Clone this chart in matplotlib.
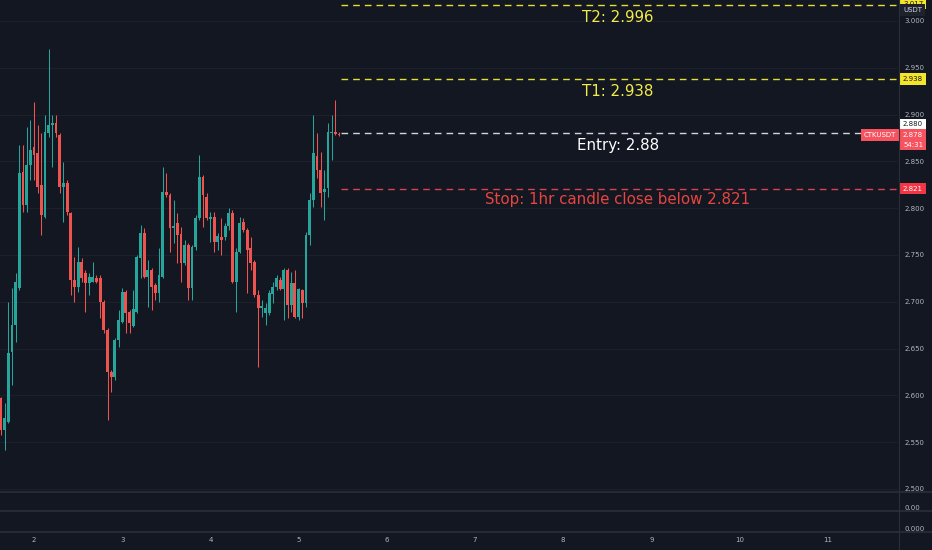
import numpy as np
import matplotlib
matplotlib.use("Agg")
import matplotlib.pyplot as plt

# CTKUSDT 1h candles
opens = [2.597, 2.563, 2.571, 2.646, 2.675, 2.715, 2.839, 2.803, 2.846, 2.865,
         2.859, 2.825, 2.791, 2.880, 2.889, 2.891, 2.878, 2.823, 2.827, 2.795,
         2.723, 2.716, 2.742, 2.731, 2.720, 2.721, 2.725, 2.725, 2.700, 2.670,
         2.625, 2.620, 2.659, 2.678, 2.710, 2.689, 2.674, 2.689, 2.747, 2.773,
         2.726, 2.734, 2.718, 2.709, 2.726, 2.817, 2.814, 2.779, 2.784, 2.772,
         2.741, 2.761, 2.715, 2.758, 2.790, 2.833, 2.812, 2.788, 2.791, 2.764,
         2.769, 2.769, 2.781, 2.795, 2.721, 2.753, 2.785, 2.777, 2.757, 2.742,
         2.707, 2.693, 2.688, 2.688, 2.708, 2.716, 2.723, 2.714, 2.734, 2.697,
         2.720, 2.684, 2.713, 2.699, 2.771, 2.809, 2.856, 2.841, 2.817, 2.822,
         2.880, 2.881, 2.879]
closes = [2.563, 2.576, 2.645, 2.675, 2.721, 2.838, 2.803, 2.846, 2.862, 2.857,
          2.823, 2.793, 2.881, 2.889, 2.891, 2.880, 2.823, 2.827, 2.796, 2.723,
          2.716, 2.742, 2.725, 2.720, 2.726, 2.726, 2.721, 2.700, 2.670, 2.625,
          2.620, 2.659, 2.681, 2.710, 2.688, 2.677, 2.692, 2.748, 2.773, 2.726,
          2.734, 2.716, 2.709, 2.729, 2.817, 2.814, 2.779, 2.781, 2.771, 2.741,
          2.761, 2.715, 2.758, 2.790, 2.833, 2.814, 2.790, 2.791, 2.764, 2.770,
          2.766, 2.781, 2.795, 2.721, 2.753, 2.784, 2.777, 2.755, 2.741, 2.707,
          2.693, 2.695, 2.693, 2.709, 2.716, 2.725, 2.714, 2.734, 2.697, 2.720,
          2.684, 2.714, 2.699, 2.771, 2.809, 2.859, 2.841, 2.816, 2.820, 2.881,
          2.881, 2.879, 2.878]
highs = [2.598, 2.592, 2.700, 2.715, 2.731, 2.867, 2.867, 2.887, 2.894, 2.913,
         2.889, 2.880, 2.900, 2.970, 2.900, 2.900, 2.880, 2.849, 2.830, 2.796,
         2.748, 2.758, 2.747, 2.734, 2.731, 2.742, 2.729, 2.729, 2.702, 2.672,
         2.627, 2.661, 2.691, 2.715, 2.713, 2.691, 2.713, 2.750, 2.782, 2.779,
         2.745, 2.736, 2.720, 2.757, 2.844, 2.838, 2.816, 2.809, 2.795, 2.780,
         2.766, 2.763, 2.761, 2.793, 2.857, 2.835, 2.816, 2.796, 2.796, 2.773,
         2.790, 2.784, 2.800, 2.798, 2.757, 2.791, 2.790, 2.779, 2.769, 2.745,
         2.713, 2.702, 2.699, 2.713, 2.721, 2.729, 2.726, 2.736, 2.736, 2.732,
         2.734, 2.715, 2.714, 2.775, 2.816, 2.900, 2.880, 2.860, 2.841, 2.891,
         2.900, 2.916, 2.881]
lows = [2.558, 2.542, 2.570, 2.611, 2.657, 2.713, 2.796, 2.796, 2.830, 2.830,
        2.816, 2.771, 2.790, 2.876, 2.844, 2.876, 2.816, 2.785, 2.793, 2.707,
        2.700, 2.710, 2.721, 2.689, 2.707, 2.721, 2.720, 2.683, 2.667, 2.574,
        2.604, 2.616, 2.652, 2.677, 2.667, 2.667, 2.673, 2.688, 2.725, 2.725,
        2.694, 2.691, 2.702, 2.700, 2.725, 2.812, 2.753, 2.763, 2.741, 2.721,
        2.739, 2.702, 2.702, 2.755, 2.787, 2.780, 2.787, 2.764, 2.753, 2.755,
        2.750, 2.766, 2.777, 2.720, 2.689, 2.752, 2.774, 2.709, 2.734, 2.705,
        2.630, 2.684, 2.675, 2.686, 2.699, 2.713, 2.713, 2.681, 2.683, 2.689,
        2.683, 2.681, 2.683, 2.694, 2.761, 2.801, 2.832, 2.801, 2.787, 2.812,
        2.851, 2.878, 2.877]

START_DAY = 1.625          # first candle: day 1, 15:00
day_ticks = list(range(2, 12))
price_ticks = [2.50, 2.55, 2.60, 2.65, 2.70, 2.75, 2.80, 2.85, 2.90, 2.95, 3.00]

# trade plan levels
level_prices = [3.017, 2.938, 2.880, 2.821]
level_names = ["T2: 2.996", "T1: 2.938", "Entry: 2.88", "Stop: 1hr candle close below 2.821"]
level_text_y = [3.004, 2.925, 2.867, 2.809]
level_colors = ["#e4e032", "#e4e032", "#d1d4dc", "#d9434b"]
text_colors = ["#f2ec4a", "#f2ec4a", "#ffffff", "#e8453f"]

BG = "#131722"
BULL = "#26a69a"
BEAR = "#ef5350"
GRID = "#1c202b"
SEP = "#2a2e39"
AXTXT = "#b2b5be"

W, H = 932, 550
fig = plt.figure(figsize=(W / 100, H / 100), dpi=100, facecolor=BG)

def px_axes(top, bottom, right=898):
    a = fig.add_axes([0, 1 - bottom / H, right / W, (bottom - top) / H])
    a.set_facecolor(BG)
    for s in a.spines.values():
        s.set_visible(False)
    return a

ax = px_axes(0, 491)
ax2 = px_axes(492, 510)
ax3 = px_axes(511, 531)

xmin, xmax = 1.6145, 11.796
for a in (ax, ax2, ax3):
    a.set_xlim(xmin, xmax)

ax.set_ylim(2.4978, 3.0224)

# candles
t = START_DAY + np.arange(len(opens)) / 24.0
o = np.array(opens); c = np.array(closes)
hi = np.array(highs); lo = np.array(lows)
up = c >= o
cols = np.where(up, BULL, BEAR)
ax.vlines(t, lo, hi, colors=cols, linewidth=0.75, zorder=3)
body_bottom = np.minimum(o, c)
body_h = np.maximum(np.abs(c - o), 0.0012)
ax.bar(t, body_h, bottom=body_bottom, width=0.78 / 24, color=cols,
       linewidth=0, zorder=4)

# grid + price axis
ax.yaxis.tick_right()
ax.set_yticks(price_ticks)
ax.set_yticklabels([f"{p:.3f}" for p in price_ticks])
ax.tick_params(axis="y", length=0, pad=4.5, labelsize=5, labelcolor=AXTXT)
ax.tick_params(axis="x", bottom=False, labelbottom=False)
ax.grid(axis="y", color=GRID, linewidth=0.8)
ax.grid(axis="x", visible=False)

for a, lab in ((ax2, "0.00"), (ax3, "0.000")):
    a.set_ylim(0, 1)
    a.yaxis.tick_right()
    a.set_yticks([0.12])
    a.set_yticklabels([lab])
    a.tick_params(axis="y", length=0, pad=4.5, labelsize=5, labelcolor=AXTXT)
    a.tick_params(axis="x", bottom=False, labelbottom=False)

ax3.set_xticks(day_ticks)
ax3.set_xticklabels([str(d) for d in day_ticks])
ax3.tick_params(axis="x", bottom=False, labelbottom=True, length=0, pad=4,
                labelsize=5, labelcolor=AXTXT)

# pane separators
for yy in (491.5, 510.5, 531.5):
    fig.add_artist(plt.Line2D([0, 1], [1 - yy / H] * 2, color=SEP, linewidth=1.2))
fig.add_artist(plt.Line2D([898.5 / W] * 2, [0, 1], color=SEP, linewidth=0.8))

# plan lines and notes
x_start = t[-1] + 0.5 / 24
x_mid = 8.62
for p, name, ty, lc, tc in zip(level_prices, level_names, level_text_y,
                               level_colors, text_colors):
    ax.hlines(p, x_start, xmax, colors=lc, linewidth=1.0,
              linestyles=(0, (4.8, 3.6)), zorder=5)
    ax.text(x_mid, ty, name, color=tc, fontsize=10.8, ha="center", va="center",
            zorder=6)

# price axis badges
ytr = ax.get_yaxis_transform()
lx = 1 + 5 / 898

def badge(y, s, fc, tc, x=lx, ha="left"):
    ax.text(x, y, s, transform=ytr, fontsize=5, color=tc, ha=ha, va="center",
            clip_on=False, zorder=10,
            bbox=dict(boxstyle="square,pad=0.4", fc=fc, ec="none"))

badge(3.0185, "3.017", "#f5e52a", "#131722")
badge(3.0115, "USDT", "#1e222d", "#d1d4dc")
badge(2.938, "2.938", "#f5e52a", "#131722")
badge(2.8895, "2.880", "#ffffff", "#131722")
badge(2.8785, "2.878", "#f7525f", "#ffffff")
badge(2.868, "54:31", "#f7525f", "#ffffff")
badge(2.821, "2.821", "#f23645", "#ffffff")
badge(2.878, "CTKUSDT", "#f7525f", "#ffffff", x=1 - 1.5 / 898, ha="right")

fig.savefig("out.png", dpi=100, facecolor=BG)
